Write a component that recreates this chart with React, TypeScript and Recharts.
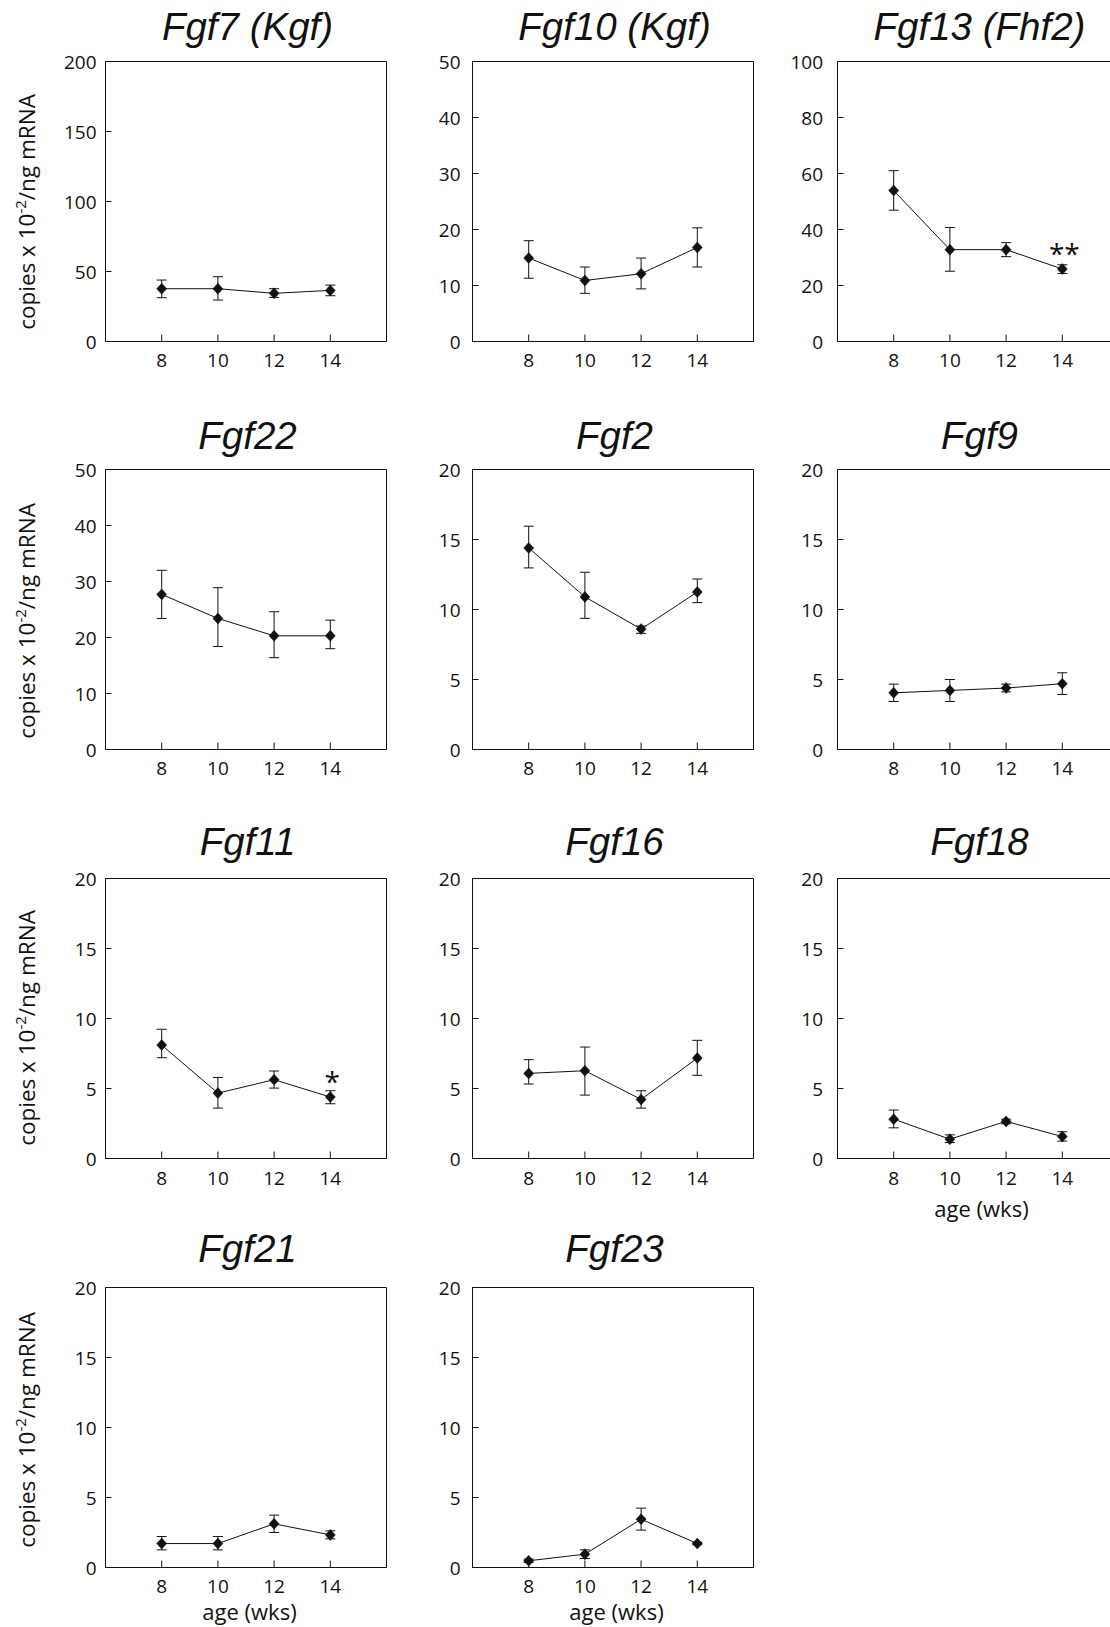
import { ErrorBar, Line, LineChart, ReferenceArea, XAxis, YAxis } from 'recharts'

const ages = [8, 10, 12, 14]

// means and error-bar ends (low / high)
const fgf7Mean = [37.7, 37.7, 34.4, 36.5]
const fgf7Low = [31.3, 29.6, 31.5, 32.7]
const fgf7High = [43.9, 46.3, 37.7, 40.3]

const fgf10Mean = [14.9, 10.9, 12.1, 16.8]
const fgf10Low = [11.3, 8.6, 9.4, 13.3]
const fgf10High = [18.0, 13.3, 14.9, 20.3]

const fgf13Mean = [53.9, 32.8, 32.8, 25.9]
const fgf13Low = [46.9, 25.1, 30.3, 24.3]
const fgf13High = [61.0, 40.7, 35.3, 27.4]
const fgf13Marks = ['', '', '', '**']

const fgf22Mean = [27.7, 23.4, 20.3, 20.3]
const fgf22Low = [23.4, 18.4, 16.4, 18.0]
const fgf22High = [32.0, 28.9, 24.6, 23.1]

const fgf2Mean = [14.4, 10.9, 8.6, 11.25]
const fgf2Low = [12.97, 9.37, 8.3, 10.49]
const fgf2High = [15.95, 12.66, 8.82, 12.18]

const fgf9Mean = [4.05, 4.22, 4.39, 4.7]
const fgf9Low = [3.43, 3.43, 4.12, 3.93]
const fgf9High = [4.67, 5.0, 4.67, 5.48]

const fgf11Mean = [8.1, 4.67, 5.63, 4.39]
const fgf11Low = [7.2, 3.6, 5.03, 3.91]
const fgf11High = [9.23, 5.79, 6.25, 4.84]
const fgf11Marks = ['', '', '', '*']

const fgf16Mean = [6.08, 6.27, 4.22, 7.17]
const fgf16Low = [5.32, 4.53, 3.6, 5.94]
const fgf16High = [7.06, 7.96, 4.84, 8.44]

const fgf18Mean = [2.81, 1.38, 2.65, 1.57]
const fgf18Low = [2.19, 1.14, 2.48, 1.24]
const fgf18High = [3.46, 1.69, 2.81, 1.91]

const fgf21Mean = [1.71, 1.71, 3.12, 2.33]
const fgf21Low = [1.26, 1.26, 2.5, 2.05]
const fgf21High = [2.21, 2.21, 3.74, 2.62]

const fgf23Mean = [0.48, 0.95, 3.45, 1.71]
const fgf23Low = [0.36, 0.64, 2.67, 1.62]
const fgf23High = [0.6, 1.26, 4.24, 1.8]

const ticks200 = [0, 50, 100, 150, 200]
const ticks100 = [0, 20, 40, 60, 80, 100]
const ticks50 = [0, 10, 20, 30, 40, 50]
const ticks20 = [0, 5, 10, 15, 20]

const yLabel = 'copies x 10'
const xLabel = 'age (wks)'

const panels = [
  { title: 'Fgf7 (Kgf)', mean: fgf7Mean, low: fgf7Low, high: fgf7High, ticks: ticks200, row: 0, col: 0 },
  { title: 'Fgf10 (Kgf)', mean: fgf10Mean, low: fgf10Low, high: fgf10High, ticks: ticks50, row: 0, col: 1 },
  { title: 'Fgf13 (Fhf2)', mean: fgf13Mean, low: fgf13Low, high: fgf13High, ticks: ticks100, marks: fgf13Marks, row: 0, col: 2 },
  { title: 'Fgf22', mean: fgf22Mean, low: fgf22Low, high: fgf22High, ticks: ticks50, row: 1, col: 0 },
  { title: 'Fgf2', mean: fgf2Mean, low: fgf2Low, high: fgf2High, ticks: ticks20, row: 1, col: 1 },
  { title: 'Fgf9', mean: fgf9Mean, low: fgf9Low, high: fgf9High, ticks: ticks20, row: 1, col: 2 },
  { title: 'Fgf11', mean: fgf11Mean, low: fgf11Low, high: fgf11High, ticks: ticks20, marks: fgf11Marks, row: 2, col: 0 },
  { title: 'Fgf16', mean: fgf16Mean, low: fgf16Low, high: fgf16High, ticks: ticks20, row: 2, col: 1 },
  { title: 'Fgf18', mean: fgf18Mean, low: fgf18Low, high: fgf18High, ticks: ticks20, row: 2, col: 2, xTitle: true },
  { title: 'Fgf21', mean: fgf21Mean, low: fgf21Low, high: fgf21High, ticks: ticks20, row: 3, col: 0, xTitle: true },
  { title: 'Fgf23', mean: fgf23Mean, low: fgf23Low, high: fgf23High, ticks: ticks20, row: 3, col: 1, xTitle: true },
]

// layout (page pixels)
const COL_LEFT = [105, 472, 837]
const ROW_TOP = [61, 469, 878, 1287]
const TITLE_BASE = [39.5, 448.5, 854.5, 1262]
const YLABEL_MID = [212, 621, 1028, 1430]
const XLABEL_GAP = [0, 0, 59, 53]
const XTICK_GAP = [25, 25, 26, 25]
const YTICK_GAP = [9, 12, 14.5]

const PW = 281
const PH = 280
const YW = 60
const MT = 20.5
const ML = 0.5
const MR = 10
const XH = 50
const AX = ML + YW
const AY = MT + PH

const ink = '#111'
const sans = '"Open Sans", "Noto Sans", sans-serif'

function Diamond(props: any) {
  const { cx, cy, payload } = props
  if (cx == null || cy == null) return <g />
  return (
    <g>
      <polygon
        points={`${cx},${cy - 5.5} ${cx + 5},${cy} ${cx},${cy + 5.5} ${cx - 5},${cy}`}
        fill={ink}
        stroke={ink}
        strokeWidth={0.5}
      />
      {payload.mark ? (
        <text x={cx + 2} y={cy - 5} textAnchor="middle" fontFamily={sans} fontSize={28} fill={ink}>
          {payload.mark}
        </text>
      ) : null}
    </g>
  )
}

function Panel({ p }: { p: (typeof panels)[number] }) {
  const rows = ages.map((age, i) => ({
    age,
    mean: p.mean[i],
    err: [p.mean[i] - p.low[i], p.high[i] - p.mean[i]],
    mark: p.marks ? p.marks[i] : '',
  }))
  const yMax = p.ticks[p.ticks.length - 1]
  const gap = YTICK_GAP[p.col]
  const xGap = XTICK_GAP[p.row]

  const yTick = (t: any) => (
    <g>
      <line x1={AX} x2={AX + 6} y1={t.y} y2={t.y} stroke={ink} />
      <text x={AX - gap} y={t.y + 7} textAnchor="end" fontFamily={sans} fontSize={19} fill={ink}>
        {t.payload.value}
      </text>
    </g>
  )
  const xTick = (t: any) => (
    <g>
      <line x1={t.x} x2={t.x} y1={AY} y2={AY - 7} stroke={ink} />
      <text x={t.x} y={AY + xGap} textAnchor="middle" fontFamily={sans} fontSize={19} fill={ink}>
        {t.payload.value}
      </text>
    </g>
  )

  return (
    <div
      style={{
        position: 'absolute',
        left: COL_LEFT[p.col] - AX,
        top: ROW_TOP[p.row] - MT,
      }}
    >
      <LineChart
        width={ML + YW + PW + MR}
        height={MT + PH + XH}
        data={rows}
        margin={{ top: MT, right: MR, bottom: 0, left: ML }}
      >
        <XAxis
          type="number"
          dataKey="age"
          domain={[6, 16]}
          ticks={ages}
          interval={0}
          height={XH}
          tickLine={false}
          axisLine={{ stroke: ink }}
          tick={xTick}
        />
        <YAxis
          type="number"
          domain={[0, yMax]}
          ticks={p.ticks}
          interval={0}
          width={YW}
          tickLine={false}
          axisLine={{ stroke: ink }}
          tick={yTick}
          allowDataOverflow
        />
        <ReferenceArea x1={6} x2={16} y1={0} y2={yMax} fill="none" fillOpacity={0} stroke={ink} strokeOpacity={1} ifOverflow="visible" />
        <Line
          dataKey="mean"
          stroke={ink}
          strokeWidth={1}
          dot={(d: any) => <Diamond key={d.index} {...d} />}
          activeDot={false}
          isAnimationActive={false}
        >
          <ErrorBar dataKey="err" width={5} stroke={ink} strokeWidth={1} direction="y" isAnimationActive={false} />
        </Line>
      </LineChart>
    </div>
  )
}

export default function App() {
  return (
    <div
      style={{
        position: 'absolute',
        left: 0,
        top: 0,
        width: 1110,
        height: 1627,
        overflow: 'hidden',
        background: '#fff',
      }}
    >
      {panels.map((p) => (
        <Panel key={p.title} p={p} />
      ))}
      <svg width={1110} height={1627} style={{ position: 'absolute', left: 0, top: 0, pointerEvents: 'none' }}>
        {panels.map((p) => (
          <text
            key={'t' + p.title}
            x={COL_LEFT[p.col] + PW / 2 + 2}
            y={TITLE_BASE[p.row]}
            textAnchor="middle"
            fontFamily='"Liberation Sans", Arial, sans-serif'
            fontStyle="italic"
            fontSize={38.5}
            fill={ink}
          >
            {p.title}
          </text>
        ))}
        {ROW_TOP.map((_, r) => (
          <text
            key={'y' + r}
            x={35}
            y={YLABEL_MID[r]}
            transform={`rotate(-90 35 ${YLABEL_MID[r]})`}
            textAnchor="middle"
            fontFamily={sans}
            fontSize={22.5}
            fill={ink}
          >
            {yLabel}
            <tspan dy={-9} fontSize={15}>
              -2
            </tspan>
            <tspan dy={9}>/ng mRNA</tspan>
          </text>
        ))}
        {panels
          .filter((p) => p.xTitle)
          .map((p) => (
            <text
              key={'x' + p.title}
              x={COL_LEFT[p.col] + PW / 2 + 4}
              y={ROW_TOP[p.row] + PH + XLABEL_GAP[p.row]}
              textAnchor="middle"
              fontFamily={sans}
              fontSize={22}
              fill={ink}
            >
              {xLabel}
            </text>
          ))}
      </svg>
    </div>
  )
}
